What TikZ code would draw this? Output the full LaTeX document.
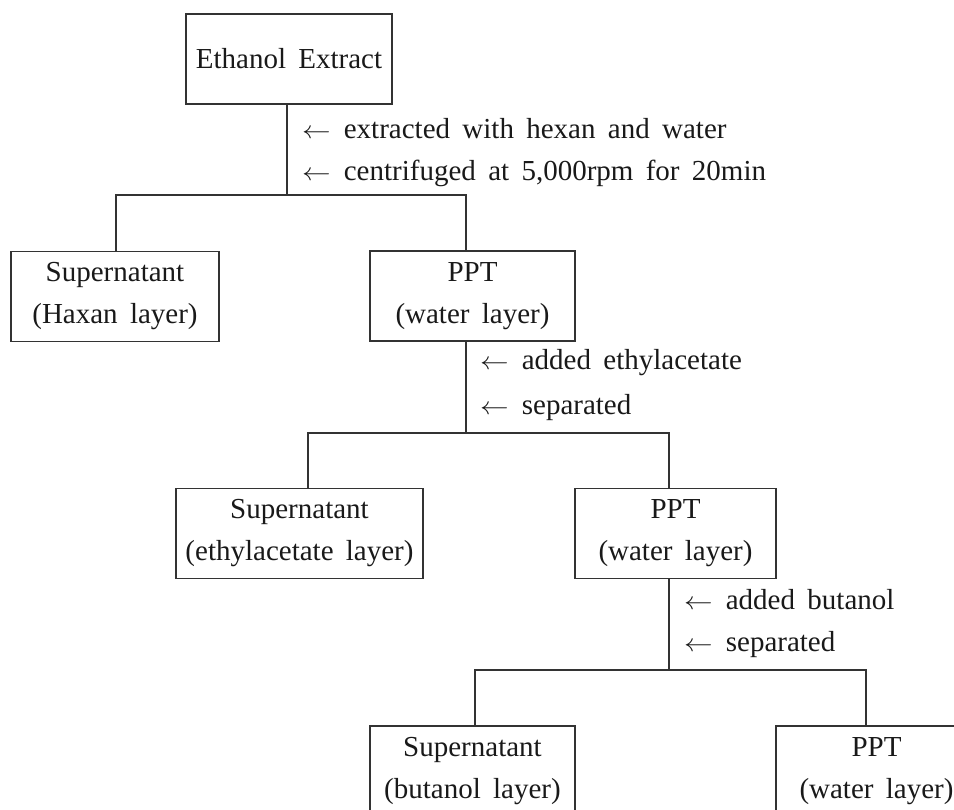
\documentclass[tikz,border=0pt]{standalone}
\usepackage{fontspec}
\setmainfont{Liberation Serif}[WordSpace=1.7]
\newcommand{\lar}{\scalebox{1.15}[1]{$\leftarrow$}\hspace{0.45em}}
\begin{document}
\begin{tikzpicture}[x=1pt,y=-1pt,
  every node/.style={font=\fontsize{29}{42}\selectfont, text=black!90},
  stage/.style={draw=black!80, line width=1.1pt, rectangle, align=center,
    inner sep=0pt, minimum height=90pt},
  note/.style={anchor=west, inner sep=0pt},
  link/.style={draw=black!80, line width=1.1pt}]
\clip (0,0) rectangle (954,810);

% process stages
\node[stage, minimum width=206pt] (A)  at (289,59)    {Ethanol Extract};
\node[stage, minimum width=208pt] (B1) at (115,296.5) {Supernatant\\(Haxan layer)};
\node[stage, minimum width=205pt] (B2) at (472.5,296) {PPT\\(water layer)};
\node[stage, minimum width=247pt] (C1) at (299.5,533.5) {Supernatant\\(ethylacetate layer)};
\node[stage, minimum width=201pt] (C2) at (675.5,533.5) {PPT\\(water layer)};
\node[stage, minimum width=205pt] (D1) at (472.5,771) {Supernatant\\(butanol layer)};
\node[stage, minimum width=201pt] (D2) at (876.5,771) {PPT\\(water layer)};

% split points
\coordinate (s1) at (287,195);
\coordinate (s2) at (466,433);
\coordinate (s3) at (669,670);

% connectors
\draw[link] (A.south -| s1) -- (s1);
\draw[link] ([xshift=1pt]B1.north) |- (s1) -| ([xshift=-6.5pt]B2.north);
\draw[link] ([xshift=-6.5pt]B2.south) -- (s2);
\draw[link] ([xshift=8.5pt]C1.north) |- (s2) -| ([xshift=-6.5pt]C2.north);
\draw[link] ([xshift=-6.5pt]C2.south) -- (s3);
\draw[link] ([xshift=2.5pt]D1.north) |- (s3) -| ([xshift=-10.5pt]D2.north);

% treatment notes
\node[note] (n1) at (302,129) {\lar extracted with hexan and water};
\node[note] (n2) at (302,173) {\lar centrifuged at 5,000rpm for 20min};
\node[note] (n3) at (480,363) {\lar added ethylacetate};
\node[note] (n4) at (480,408) {\lar separated};
\node[note] (n5) at (684,600) {\lar added butanol};
\node[note] (n6) at (684,645) {\lar separated};
\end{tikzpicture}
\end{document}
